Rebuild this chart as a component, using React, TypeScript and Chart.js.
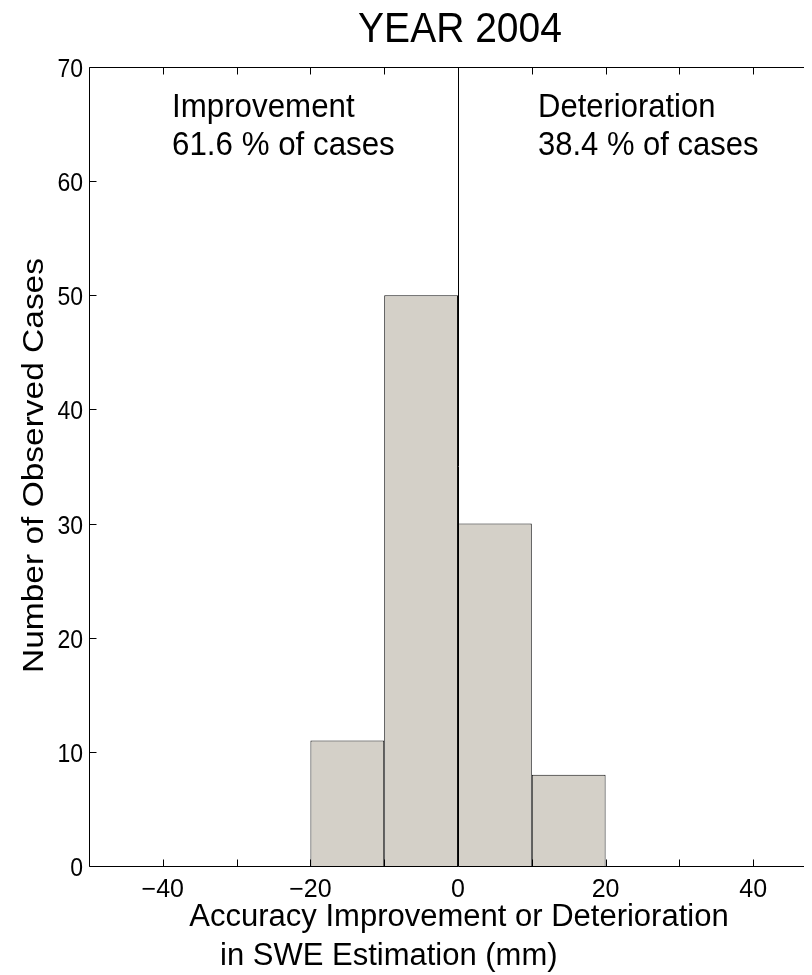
import React, { useEffect, useRef } from "react";
import { Chart, registerables } from "chart.js";

Chart.register(...registerables);

// ---- data ----
const binCenters = [-15, -5, 5, 15];
const counts = [11, 50, 30, 8];
const xTicks = [-40, -30, -20, -10, 0, 10, 20, 30, 40];
const xTickLabels = [-40, -20, 0, 20, 40];
const yTicks = [0, 10, 20, 30, 40, 50, 60, 70];
const titleText = "YEAR 2004";
const leftNote = ["Improvement", "61.6 % of cases"];
const rightNote = ["Deterioration", "38.4 % of cases"];
const xLabelLines = ["Accuracy Improvement or Deterioration", "in SWE Estimation (mm)"];
const yLabelText = "Number of Observed Cases";
const X_MIN = -50;
const X_MAX = 50;
const Y_MIN = 0;
const Y_MAX = 70;

const FONT = '"Liberation Sans", Arial, Helvetica, sans-serif';
const fmt = (v: number) => (v < 0 ? "\u2212" + Math.abs(v) : String(v));

function drawText(
  ctx: CanvasRenderingContext2D,
  text: string,
  x: number,
  y: number,
  size: number,
  align: CanvasTextAlign,
  sx = 1,
  sy = 1
) {
  ctx.save();
  ctx.translate(x, y);
  ctx.scale(sx, sy);
  ctx.font = `${size}px ${FONT}`;
  ctx.textAlign = align;
  ctx.textBaseline = "alphabetic";
  ctx.fillText(text, 0, 0);
  ctx.restore();
}

const decorPlugin = {
  id: "decor",
  afterDatasetsDraw(chart: any) {
    const ctx = chart.ctx as CanvasRenderingContext2D;
    const { left, right, top, bottom } = chart.chartArea;
    const xs = chart.scales.x;
    const ys = chart.scales.y;
    const L = Math.round(left) + 0.5;
    const R = Math.round(right) + 0.5;
    const T = Math.round(top) + 0.5;
    const B = Math.round(bottom) + 0.5;
    ctx.save();
    ctx.strokeStyle = "#000";
    ctx.lineWidth = 1;
    // zero divider
    const x0 = Math.round(xs.getPixelForValue(0)) + 0.5;
    ctx.beginPath();
    ctx.moveTo(x0, ys.getPixelForValue(Y_MIN));
    ctx.lineTo(x0, ys.getPixelForValue(Y_MAX));
    ctx.stroke();
    // box
    ctx.beginPath();
    ctx.rect(L, T, R - L, B - T);
    ctx.stroke();
    // ticks (inward)
    const tl = 7;
    ctx.beginPath();
    xTicks.forEach((v) => {
      const px = Math.round(xs.getPixelForValue(v)) + 0.5;
      ctx.moveTo(px, B);
      ctx.lineTo(px, B - tl);
      ctx.moveTo(px, T);
      ctx.lineTo(px, T + tl);
    });
    yTicks.forEach((v) => {
      const py = Math.round(ys.getPixelForValue(v)) + 0.5;
      ctx.moveTo(L, py);
      ctx.lineTo(L + tl, py);
      ctx.moveTo(R, py);
      ctx.lineTo(R - tl, py);
    });
    ctx.stroke();

    ctx.fillStyle = "#000";
    // tick labels
    xTickLabels.forEach((v) => {
      drawText(ctx, fmt(v), xs.getPixelForValue(v), bottom + 31, 25, "center");
    });
    yTicks.forEach((v) => {
      drawText(ctx, fmt(v), left - 6, ys.getPixelForValue(v) + 10, 25, "right", 0.92, 1.05);
    });

    // title
    drawText(ctx, titleText, 452, 34, 39, "center", 1, 1.1);

    // notes
    drawText(ctx, leftNote[0], 164, 109, 31, "left", 1.01, 1.08);
    drawText(ctx, leftNote[1], 164, 147, 31, "left", 1.01, 1.08);
    drawText(ctx, rightNote[0], 530, 109, 31, "left", 1.0, 1.08);
    drawText(ctx, rightNote[1], 530, 147, 31, "left", 1.0, 1.08);

    // x label
    drawText(ctx, xLabelLines[0], 451, 918, 31, "center");
    drawText(ctx, xLabelLines[1], 212, 957, 31, "left");

    // y label
    ctx.save();
    ctx.translate(35, 457.5);
    ctx.rotate(-Math.PI / 2);
    ctx.scale(1.08, 0.97);
    ctx.font = `31px ${FONT}`;
    ctx.textAlign = "center";
    ctx.textBaseline = "alphabetic";
    ctx.fillText(yLabelText, 0, 0);
    ctx.restore();

    ctx.restore();
  },
};

export default function App() {
  const ref = useRef<HTMLCanvasElement | null>(null);
  useEffect(() => {
    document.documentElement.style.overflow = "hidden";
    document.body.style.overflow = "hidden";
    if (!ref.current) return;
    const chart = new Chart(ref.current, {
      type: "bar",
      data: {
        datasets: [
          {
            data: binCenters.map((c, i) => ({ x: c, y: counts[i] })),
            backgroundColor: "#d4d0c8",
            borderColor: "#111",
            borderWidth: 1,
            barPercentage: 1,
            categoryPercentage: 1,
            inflateAmount: 0,
          } as any,
        ],
      },
      options: {
        responsive: false,
        animation: false,
        devicePixelRatio: 1,
        layout: { padding: { left: 81, right: 21, top: 59, bottom: 109 } },
        plugins: { legend: { display: false }, tooltip: { enabled: false }, title: { display: false } },
        scales: {
          x: { type: "linear", min: X_MIN, max: X_MAX, display: false, offset: false },
          y: { type: "linear", min: Y_MIN, max: Y_MAX, display: false },
        },
      },
      plugins: [decorPlugin],
    });
    return () => chart.destroy();
  }, []);
  return (
    <div style={{ width: 804, height: 967, overflow: "hidden", background: "#fff" }}>
      <canvas ref={ref} width={840} height={967} style={{ width: 840, height: 967, display: "block" }} />
    </div>
  );
}
